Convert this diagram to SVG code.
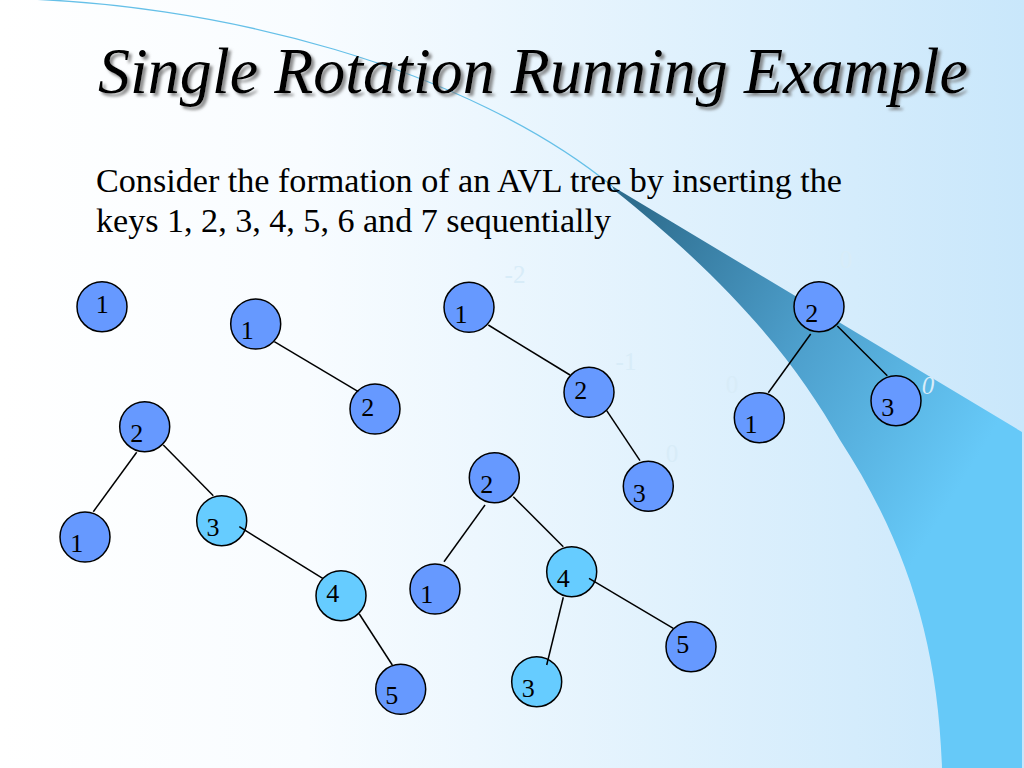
<svg xmlns="http://www.w3.org/2000/svg" width="1024" height="768" viewBox="0 0 1024 768">
<style>
.node{stroke:#000;stroke-width:1.5}
.dark{fill:#6699ff}
.light{fill:#66ccff}
.lbl{font-family:"Liberation Serif","Times New Roman",serif;font-size:26px;fill:#000;text-anchor:middle}
.faint{font-family:"Liberation Serif","Times New Roman",serif;font-size:25px;fill:#d8ecf8;text-anchor:middle}
.edge{stroke:#000;stroke-width:1.5;fill:none}
.body{font-family:"Liberation Serif","Times New Roman",serif;font-size:33px;fill:#000}
.title{font-family:"Liberation Serif","Times New Roman",serif;font-size:65px;font-style:italic;fill:#000}
</style>
<defs>
<linearGradient id="bg" x1="0" y1="0" x2="1" y2="0">
<stop offset="0" stop-color="#ffffff"/>
<stop offset="0.3" stop-color="#f8fcff"/>
<stop offset="1" stop-color="#c9e7fb"/>
</linearGradient>
<linearGradient id="band" gradientUnits="userSpaceOnUse" x1="640" y1="200" x2="1000" y2="420">
<stop offset="0" stop-color="#2e6d8e"/>
<stop offset="0.5" stop-color="#4d9fcc"/>
<stop offset="1" stop-color="#66c9f8"/>
</linearGradient>
<filter id="shadow" x="-5%" y="-20%" width="110%" height="150%">
<feGaussianBlur in="SourceAlpha" stdDeviation="1.5"/>
<feOffset dx="3" dy="3" result="b"/>
<feFlood flood-color="#707070" flood-opacity="0.8"/>
<feComposite in2="b" operator="in"/>
<feMerge><feMergeNode/><feMergeNode in="SourceGraphic"/></feMerge>
</filter>
</defs>
<rect width="1024" height="768" fill="url(#bg)"/>
<path d="M612,186 L1022,432 L1022,768 L942,768 C938,640 905,540 840,440 C800,370 740,290 614,190 Z" fill="url(#band)"/>
<path d="M-10,-2 C220,0 470,70 612,186" fill="none" stroke="#66c0e8" stroke-width="1.3"/>
<text class="title" x="98" y="93" textLength="870" lengthAdjust="spacingAndGlyphs" filter="url(#shadow)">Single Rotation Running Example</text>
<text class="body" x="96" y="192" textLength="746" lengthAdjust="spacingAndGlyphs">Consider the formation of an AVL tree by inserting the</text>
<text class="body" x="96" y="232" textLength="515" lengthAdjust="spacingAndGlyphs">keys 1, 2, 3, 4, 5, 6 and 7 sequentially</text>
<g id="balance-labels">
<text class="faint" x="515" y="283">-2</text>
<text class="faint" x="626" y="370">-1</text>
<text class="faint" x="672" y="462">0</text>
<text class="faint" x="846" y="268">0</text>
<text class="faint" x="732" y="393">0</text>
<text class="faint" x="928" y="394" font-style="italic">0</text>
</g>
<g id="t1-n1"><circle class="node dark" cx="102" cy="306.7" r="25"/><text class="lbl" x="102.3" y="313.3">1</text></g>
<g id="t2-n1"><circle class="node dark" cx="255.7" cy="324" r="25"/><text class="lbl" x="247.3" y="339.3">1</text></g>
<g id="t2-n2"><circle class="node dark" cx="375" cy="409" r="25"/><text class="lbl" x="367.7" y="415.7">2</text></g>
<g id="t3-n1"><circle class="node dark" cx="469" cy="307.3" r="25"/><text class="lbl" x="461" y="322.7">1</text></g>
<g id="t3-n2"><circle class="node dark" cx="589" cy="392.3" r="25"/><text class="lbl" x="580.7" y="399.3">2</text></g>
<g id="t3-n3"><circle class="node dark" cx="648.3" cy="486.3" r="25"/><text class="lbl" x="639.3" y="501.7">3</text></g>
<g id="t4-n2"><circle class="node dark" cx="819" cy="306.7" r="25"/><text class="lbl" x="811.7" y="321.7">2</text></g>
<g id="t4-n1"><circle class="node dark" cx="759.3" cy="417.7" r="25"/><text class="lbl" x="751" y="433.3">1</text></g>
<g id="t4-n3"><circle class="node dark" cx="896" cy="400.7" r="25"/><text class="lbl" x="887.7" y="415.7">3</text></g>
<g id="t5-n2"><circle class="node dark" cx="144.7" cy="426.7" r="25"/><text class="lbl" x="136.7" y="441.7">2</text></g>
<g id="t5-n1"><circle class="node dark" cx="85" cy="537" r="25"/><text class="lbl" x="76.7" y="552">1</text></g>
<g id="t5-n3"><circle class="node light" cx="221.7" cy="520.7" r="25"/><text class="lbl" x="213" y="535.7">3</text></g>
<g id="t5-n4"><circle class="node light" cx="341" cy="595.7" r="25"/><text class="lbl" x="332.7" y="601.7">4</text></g>
<g id="t5-n5"><circle class="node dark" cx="400.7" cy="689.3" r="25"/><text class="lbl" x="391.7" y="704.3">5</text></g>
<g id="t6-n2"><circle class="node dark" cx="494.3" cy="477.7" r="25"/><text class="lbl" x="486.7" y="493.3">2</text></g>
<g id="t6-n1"><circle class="node dark" cx="435" cy="589" r="25"/><text class="lbl" x="426.7" y="603.3">1</text></g>
<g id="t6-n4"><circle class="node light" cx="571.7" cy="571.7" r="25"/><text class="lbl" x="563.3" y="586.7">4</text></g>
<g id="t6-n3"><circle class="node light" cx="536.7" cy="681.7" r="25"/><text class="lbl" x="528.3" y="697.3">3</text></g>
<g id="t6-n5"><circle class="node dark" cx="691" cy="646.7" r="25"/><text class="lbl" x="682.7" y="652.7">5</text></g>
<g id="connectors">
<line class="edge" x1="274.3" y1="341.7" x2="358.3" y2="391.7"/>
<line class="edge" x1="488.3" y1="325" x2="570" y2="375"/>
<line class="edge" x1="606.7" y1="410.7" x2="640" y2="460.7"/>
<line class="edge" x1="810.7" y1="334" x2="768.3" y2="392.7"/>
<line class="edge" x1="837.3" y1="326" x2="887.3" y2="375.7"/>
<line class="edge" x1="136.7" y1="452.3" x2="93.3" y2="511.7"/>
<line class="edge" x1="163.3" y1="445" x2="213.3" y2="495.7"/>
<line class="edge" x1="239.3" y1="526.7" x2="322.7" y2="578.3"/>
<line class="edge" x1="359.3" y1="614" x2="392.3" y2="665"/>
<line class="edge" x1="485" y1="505" x2="444" y2="561.7"/>
<line class="edge" x1="513.3" y1="496.7" x2="563.3" y2="546.7"/>
<line class="edge" x1="563.3" y1="597.3" x2="546.7" y2="665"/>
<line class="edge" x1="589" y1="578.3" x2="673.3" y2="628.3"/>
</g>
</svg>
